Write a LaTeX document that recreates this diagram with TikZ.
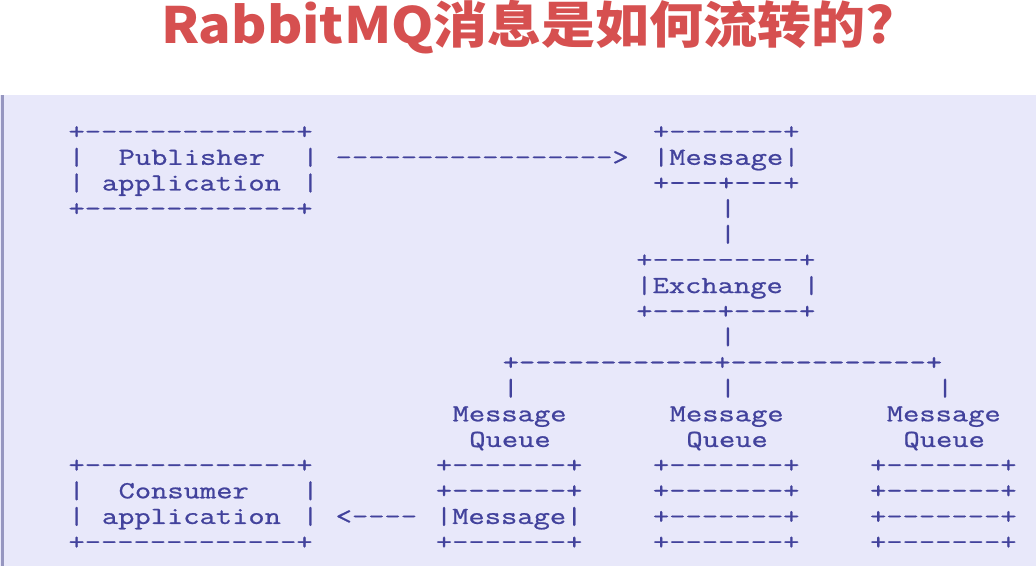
\documentclass[tikz,border=0pt]{standalone}
\usepackage{fontspec}
\usepackage{xcolor}
\usetikzlibrary{positioning}

\newfontfamily\asciifont[FakeStretch=1.29,FakeBold=0.9,Ligatures=TeXOff]{Latin Modern Mono}
\newfontfamily\titlefont[FakeStretch=1.08]{Noto Sans CJK SC}

\definecolor{asciiblue}{RGB}{66,66,156}
\definecolor{panel}{RGB}{232,232,250}
\definecolor{panelbar}{RGB}{150,150,192}
\definecolor{titlered}{RGB}{214,80,80}

\tikzset{
  ascii/.style={font=\asciifont\fontsize{24.5}{25}\selectfont, text=asciiblue,
    inner sep=0pt, outer sep=0pt, anchor=mid west},
  headline/.style={font=\titlefont\bfseries\fontsize{50}{50}\selectfont,
    text=titlered, inner sep=0pt}
}

\begin{document}
\begin{tikzpicture}[x=1pt, y=-1pt]
\useasboundingbox (0,0) rectangle (1036,566);
\fill[white] (0,0) rectangle (1036,566);

% Title
\node[headline] (title) at (528,27) {RabbitMQ消息是如何流转的?};

% Panel
\fill[panel] (0,95) rectangle (1036,566);
\fill[panelbar] (1,95) rectangle (4,566);

\begin{scope}[shift={(68.5,137)}, x=16.7pt, y=-25.65pt]
% Publisher application
\node[ascii] (pub-top) at (0,0) {+-------------+};
\node[ascii] (pub-l1) at (0,1) {|};
\node[ascii] (pub-t1) at (3,1) {Publisher};
\node[ascii] (pub-r1) at (14,1) {|};
\node[ascii] (pub-l2) at (0,2) {|};
\node[ascii] (pub-t2) at (2,2) {application};
\node[ascii] (pub-r2) at (14,2) {|};
\node[ascii] (pub-bot) at (0,3) {+-------------+};

% Publish arrow
\node[ascii] (send) at (16,1) {----------------->};

% Message
\node[ascii] (msg-top) at (35,0) {+-------+};
\node[ascii] (msg) at (35,1) {|Message|};
\node[ascii] (msg-bot) at (35,2) {+---+---+};
\foreach \r in {3,4}
  \node[ascii] (msg-ex-\r) at (39,\r) {|};

% Exchange
\node[ascii] (ex-top) at (34,5) {+---------+};
\node[ascii] (ex) at (34,6) {|Exchange};
\node[ascii] (ex-r) at (44,6) {|};
\node[ascii] (ex-bot) at (34,7) {+----+----+};
\node[ascii] (ex-bind) at (39,8) {|};

% Bindings
\node[ascii] (fan) at (26,9) {+------------+------------+};

% Message queues
\foreach \q/\c in {1/26,2/39,3/52} {
  \node[ascii] (bind-\q) at (\c,10) {|};
  \node[ascii] (mq-\q-a) at (\c-3,11) {Message};
  \node[ascii] (mq-\q-b) at (\c-2,12) {Queue};
  \node[ascii] (slot-\q-0) at (\c-4,13) {+-------+};
  \node[ascii] (slot-\q-1) at (\c-4,14) {+-------+};
  \node[ascii] (slot-\q-3) at (\c-4,16) {+-------+};
}
\node[ascii] (qmsg) at (22,15) {|Message|};
\node[ascii] (slot-2-2) at (35,15) {+-------+};
\node[ascii] (slot-3-2) at (48,15) {+-------+};

% Consume arrow
\node[ascii] (deliver) at (16,15) {<----};

% Consumer application
\node[ascii] (con-top) at (0,13) {+-------------+};
\node[ascii] (con-l1) at (0,14) {|};
\node[ascii] (con-t1) at (3,14) {Consumer};
\node[ascii] (con-r1) at (14,14) {|};
\node[ascii] (con-l2) at (0,15) {|};
\node[ascii] (con-t2) at (2,15) {application};
\node[ascii] (con-r2) at (14,15) {|};
\node[ascii] (con-bot) at (0,16) {+-------------+};
\end{scope}

\end{tikzpicture}
\end{document}
